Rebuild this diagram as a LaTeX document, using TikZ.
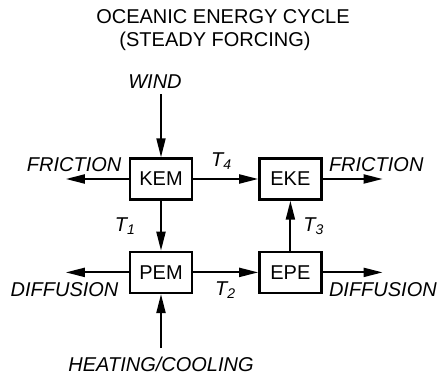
\documentclass[tikz,border=0pt]{standalone}
\usepackage{fontspec}
\setmainfont{Liberation Sans}
\usepackage{tikz}
\usetikzlibrary{arrows.meta,positioning}

\begin{document}
\begin{tikzpicture}[font=\fontsize{10}{12}\selectfont, node distance=25pt and 32.5pt,
  box/.style={draw, line width=1.2pt, minimum width=31pt, minimum height=20.5pt, inner sep=2pt},
  lab/.style={font=\fontsize{10}{12}\selectfont\itshape, inner sep=0pt},
  ar/.style={-{Triangle[length=9.5pt,width=4.5pt]}, line width=1pt},
  t1/.style={left=12pt}, t2/.style={below=4pt},
  t3/.style={right=6pt}, t4/.style={above=4pt, xshift=-2pt}]
\useasboundingbox (-80.5pt,-99.5pt) rectangle (141pt,89.5pt);
\node[box] (kem) at (0,0) {KEM};
\node[box, right=of kem] (eke) {EKE};
\node[box, below=of kem] (pem) {PEM};
\node[box, below=of eke] (epe) {EPE};
\foreach \a/\b/\n in {kem/eke/4,kem/pem/1,pem/epe/2,epe/eke/3}
  \draw[ar] (\a)--(\b) node[midway, lab, t\n] {T\textsubscript{\n}};
% forcing and dissipation
\node[lab, above=34pt of kem, xshift=-3pt] (wind) {WIND};
\draw[ar, shorten <=2.5pt] (wind.south -| kem) -- (kem);
\node[lab, below=31.5pt of pem] (heat) {HEATING/COOLING};
\draw[ar, shorten <=4.5pt] (heat.north -| pem) -- (pem);
\coordinate[left=31.5pt of kem] (fricl);
\coordinate[right=30pt of eke] (fricr);
\coordinate[left=31.5pt of pem] (diffl);
\coordinate[right=30pt of epe] (diffr);
\foreach \a/\b in {kem/fricl,eke/fricr,pem/diffl,epe/diffr}\draw[ar] (\a)--(\b);
\node[lab, above left=3.5pt and 3.5pt of kem.west] (fricltxt) {FRICTION};
\node[lab, above right=3.5pt and 3pt of eke.east] (fricrtxt) {FRICTION};
\node[lab, below left=5pt and 5pt of pem.west] (diffltxt) {DIFFUSION};
\node[lab, below right=5pt and 3pt of epe.east] (diffrtxt) {DIFFUSION};
% heading
\node[inner sep=0pt] (title) at (31pt,81pt) {OCEANIC ENERGY CYCLE};
\node[inner sep=0pt] (sub) at (27pt,69pt) {(STEADY FORCING)};
\end{tikzpicture}
\end{document}
